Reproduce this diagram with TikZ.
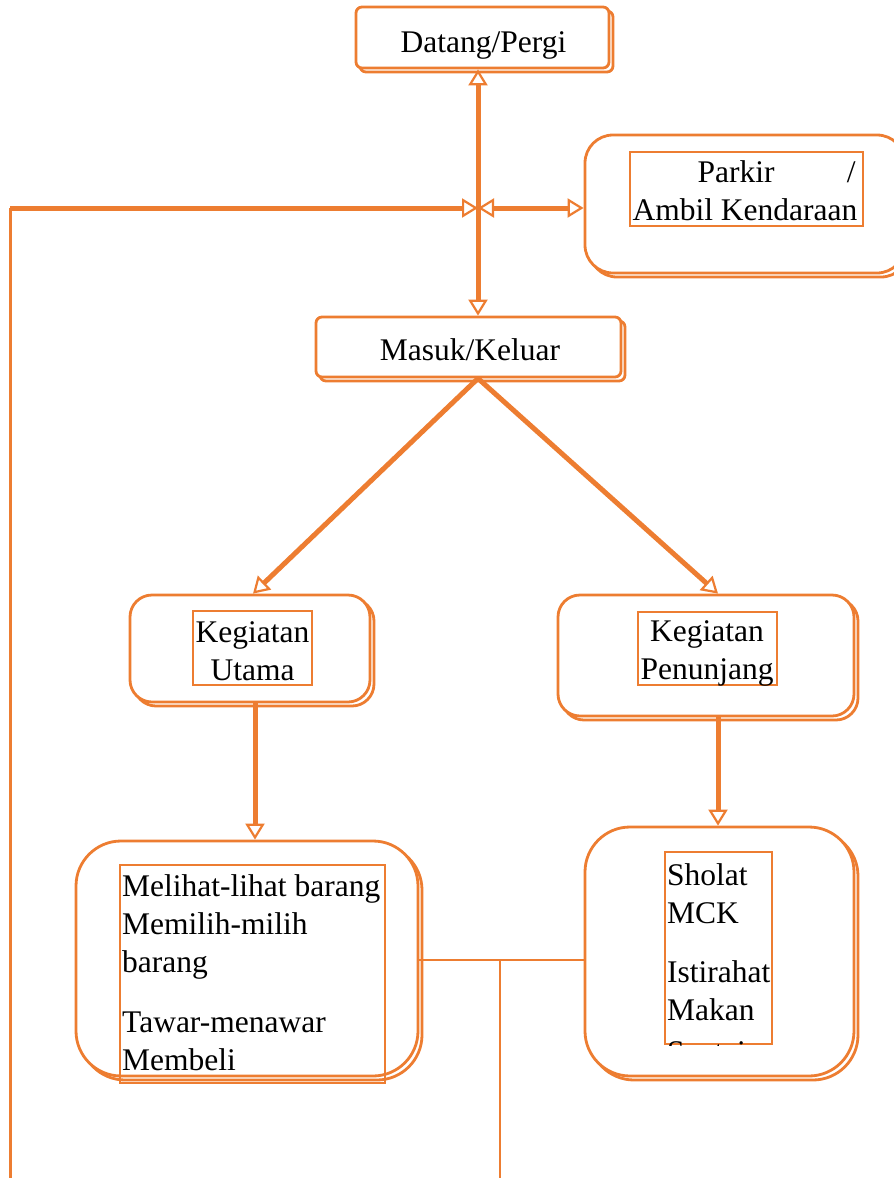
\documentclass[tikz,border=0pt]{standalone}
\usepackage{fontspec}
\setmainfont{Liberation Serif}
\usetikzlibrary{arrows.meta,shadows}
\definecolor{org}{HTML}{ED7D31}
\begin{document}
\begin{tikzpicture}[x=1pt,y=-1pt,
  >={Triangle[fill=white,length=16pt,width=19pt,line width=2.2pt]},
  box/.style={draw=org,line width=2.8pt,fill=white,inner sep=0pt,
    copy shadow={shadow xshift=4pt,shadow yshift=-4pt}},
  frame/.style={draw=org,line width=2.8pt,inner sep=0pt},
  txt/.style={inner sep=0pt,font=\fontsize{31.5}{38}\selectfont,text=black},
  thickline/.style={draw=org,line width=5pt},
  thinline/.style={draw=org,line width=2.5pt}]
\useasboundingbox (0,0) rectangle (894,1178);
\clip (0,0) rectangle (894,1178);

% named points
\coordinate (junc) at (478,208);
\coordinate (lcorner) at (10,208);
\coordinate (lend) at (10,1178);
\coordinate (ua) at (255,0);
\coordinate (ut) at (253,0);
\coordinate (pa) at (718,0);
\coordinate (tj) at (500,960);
\coordinate (tend) at (500,1178);

% Datang/Pergi
\node[box,rounded corners=6pt,minimum width=253pt,minimum height=61pt] (datang) at (482.5,37.5) {};
\node[txt,anchor=base] (datangt) at (483.5,52) {Datang/Pergi};

% Parkir
\node[box,rounded corners=28pt,minimum width=320pt,minimum height=138pt] (parkir) at (745,204) {};
\node[frame,minimum width=233pt,minimum height=74pt] (parkirf) at (746.5,189) {};
\node[txt,anchor=base,align=left] (parkirt) at (745,220) {\makebox[223pt][l]{\hspace*{65pt}Parkir\hfill/}\\Ambil Kendaraan};

% Masuk/Keluar
\node[box,rounded corners=6pt,minimum width=305pt,minimum height=60pt] (masuk) at (468.5,347) {};
\node[txt,anchor=base] (masukt) at (470,360) {Masuk/Keluar};

% Kegiatan Utama
\node[box,rounded corners=22pt,minimum width=240pt,minimum height=107pt] (utama) at (250,648.5) {};
\node[frame,minimum width=119pt,minimum height=74pt] (utamaf) at (252.5,648) {};
\node[txt,anchor=base,align=center] (utamat) at (252.5,680) {Kegiatan\\Utama};

% Kegiatan Penunjang
\node[box,rounded corners=22pt,minimum width=296pt,minimum height=121pt] (penunjang) at (706,655.5) {};
\node[frame,minimum width=139pt,minimum height=73pt] (penunjangf) at (707.5,648.5) {};
\begin{scope}
\clip (penunjangf.north west) rectangle (penunjangf.south east);
\node[txt,anchor=base,align=center] (penunjangt) at (707,679) {Kegiatan\\Penunjang};
\end{scope}

% left bottom box
\node[box,rounded corners=45pt,minimum width=342pt,minimum height=235pt] (lbox) at (247,958.5) {};
\node[frame,minimum width=265pt,minimum height=218pt] (lboxf) at (252.5,974) {};
\node[txt,anchor=base west,align=left] (lboxt) at (122,1070) {Melihat-lihat barang\\Memilih-milih\\barang\\[22pt]Tawar-menawar\\Membeli};

% right bottom box
\node[box,rounded corners=45pt,minimum width=269pt,minimum height=249pt] (rbox) at (719.5,951.5) {};
\node[frame,minimum width=107pt,minimum height=192pt] (rboxf) at (718.5,948) {};
\begin{scope}
\clip (rboxf.north west) rectangle (rboxf.south east);
\node[txt,anchor=base west,align=left] (rboxt) at (667,1062) {Sholat\\MCK\\[21pt]Istirahat\\Makan\\[4pt]Santai};
\end{scope}

% connectors
\draw[thinline,line width=3pt] (lcorner) -- (lend);
\draw[thickline,->] (lcorner) -- (junc);
\draw[thickline,<->] (junc) -- (parkir.west |- junc);
\draw[thickline,<->] (datang.south -| junc) -- (masuk.north -| junc);
\draw[thickline,->] (masuk.south -| junc) -- (utama.north -| ut);
\draw[thickline,->] (masuk.south -| junc) -- (penunjang.north -| pa);
\draw[thickline,->] (utama.south -| ua) -- (lbox.north -| ua);
\draw[thickline,->] (penunjang.south -| pa) -- (rbox.north -| pa);
\draw[thinline] (lbox.east |- tj) -- (rbox.west |- tj);
\draw[thinline] (tj) -- (tend);
\end{tikzpicture}
\end{document}
